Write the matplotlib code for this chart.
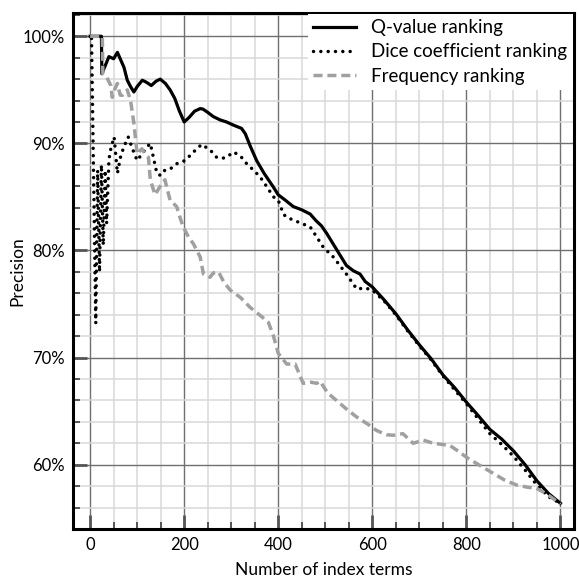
import matplotlib.pyplot as plt
from matplotlib.ticker import MultipleLocator, FuncFormatter

plt.rcParams['font.family'] = ['Lato', 'DejaVu Sans']

# Q-value ranking
q_x = [0, 24, 25, 40, 50, 58, 65, 72, 79, 86, 93, 100, 111, 120, 130, 140, 149, 160,
       170, 180, 190, 200, 210, 222, 234, 240, 250, 262, 276, 290, 305, 322, 330, 340,
       354, 370, 390, 400, 415, 432, 450, 468, 480, 492, 503, 517, 531, 545, 560, 574,
       585, 600, 625, 650, 675, 700, 725, 750, 775, 800, 825, 850, 875, 900, 925, 950,
       975, 1000]
q_y = [100, 100, 96.5, 98.1, 97.9, 98.5, 97.8, 97.1, 95.9, 95.3, 94.8, 95.3, 95.9, 95.7,
       95.4, 95.8, 96.0, 95.6, 95.0, 94.2, 93.0, 92.0, 92.4, 93.0, 93.25, 93.2, 92.9,
       92.5, 92.2, 92.0, 91.7, 91.4, 90.9, 89.8, 88.4, 87.2, 85.9, 85.2, 84.7, 84.1,
       83.8, 83.4, 82.8, 82.3, 81.6, 80.6, 79.6, 78.6, 78.1, 77.8, 77.1, 76.6, 75.4,
       74.1, 72.6, 71.2, 69.9, 68.4, 67.2, 65.85, 64.6, 63.3, 62.4, 61.3, 60.0, 58.5,
       57.3, 56.4]

# Dice coefficient ranking
d_x = [3, 12, 16, 20, 24, 28, 32, 35, 40, 44, 51, 58, 65, 72, 81,
       90, 100, 110, 120, 128, 135, 142, 150, 159, 170, 184, 202, 220, 237, 255, 269,
       280, 290, 305, 320, 333, 345, 361, 375, 390, 400, 411, 418, 440, 468, 496, 517,
       545, 567, 585, 600, 625, 650, 675, 700, 725, 750, 775, 800, 825, 850, 875, 900,
       925, 950, 975, 1000]
d_y = [99.8, 73.2, 87.5, 78.0, 88.0, 80.5, 87.5, 82.5, 88.5, 89.5, 90.6, 87.2, 88.8,
       89.7, 90.6, 89.5, 88.4, 89.0, 89.6, 90.0, 88.6,
       87.2, 87.0, 87.5, 87.6, 88.1, 88.4, 89.2, 89.9, 89.4, 88.7, 88.6, 88.7, 89.2,
       88.8, 88.1, 87.6, 86.9, 86.0, 85.0, 84.7, 83.4, 83.1, 82.7, 82.2, 80.3, 79.4,
       77.8, 76.4, 76.5, 76.3, 75.3, 74.0, 72.5, 71.1, 69.8, 68.3, 67.0, 65.7, 64.3,
       62.9, 61.9, 60.8, 59.5, 58.1, 57.0, 56.4]

# Frequency ranking
f_x = [0, 26, 27, 35, 44, 47, 52, 58, 64, 69, 75, 79, 86, 93, 100, 110, 117, 124, 128,
       138, 149, 159, 170, 184, 191, 198, 210, 220, 234, 241, 255, 262, 273, 285, 298,
       320, 340, 360, 379, 390, 400, 418, 436, 453, 470, 482, 489, 505, 524, 545, 567,
       590, 609, 630, 645, 665, 687, 708, 730, 765, 785, 800, 830, 857, 880, 907, 930,
       949, 970, 992, 1000]
f_y = [100, 100, 96.5, 96.2, 95.4, 94.3, 95.0, 95.6, 94.5, 94.5, 94.8, 95.0, 94.0, 91.9,
       89.0, 89.5, 89.0, 88.7, 86.6, 85.2, 86.0, 86.6, 84.7, 84.1, 83.1, 82.2, 81.2,
       80.6, 79.4, 77.8, 77.5, 77.9, 78.0, 77.0, 76.3, 75.6, 74.7, 74.0, 73.3, 72.0,
       70.4, 69.4, 69.4, 67.6, 67.7, 67.6, 67.8, 66.7, 66.0, 65.2, 64.45, 63.8, 63.2,
       62.8, 62.75, 62.9, 62.0, 62.3, 62.0, 61.8, 61.2, 60.7, 59.9, 59.2, 58.6, 58.1,
       57.9, 57.8, 57.3, 56.6, 56.3]

fig = plt.figure(figsize=(5.79, 5.78), dpi=100)
ax = fig.add_axes([0.1256, 0.0848, 0.8658, 0.8932])

ax.plot(q_x, q_y, color='black', lw=2.3, label='Q-value ranking', zorder=3)
ax.plot(d_x, d_y, color='black', lw=2.5, linestyle=(0, (0.01, 2.1)),
        dash_capstyle='round', label='Dice coefficient ranking', zorder=3)
ax.plot(f_x, f_y, color='#a0a0a0', lw=2.5, linestyle=(0, (2.6, 1.4)),
        label='Frequency ranking', zorder=3)

ax.set_xlim(-37, 1029)
ax.set_ylim(54, 102.2)

ax.xaxis.set_major_locator(MultipleLocator(200))
ax.xaxis.set_minor_locator(MultipleLocator(50))
ax.yaxis.set_major_locator(MultipleLocator(10))
ax.yaxis.set_minor_locator(MultipleLocator(2))
ax.yaxis.set_major_formatter(FuncFormatter(lambda v, p: f'{v:.0f}%'))

ax.grid(which='major', color='#707070', lw=1.0, zorder=1)
ax.grid(which='minor', color='#d8d8d8', lw=1.1, zorder=0)
ax.set_axisbelow(True)

ax.tick_params(which='major', direction='in', length=10, width=2.0, color='#555555',
               labelsize=12, pad=6, top=False, right=False)
ax.tick_params(which='minor', direction='in', length=5, width=1.4, color='#555555',
               top=False, right=False)

for s in ax.spines.values():
    s.set_linewidth(2.2)
    s.set_color('black')

ax.set_xlabel('Number of index terms', fontsize=12.5, labelpad=6)
ax.set_ylabel('Precision', fontsize=12.5)
ax.yaxis.set_label_coords(-0.095, 0.5)

leg = ax.legend(loc='upper right', fontsize=13.5, frameon=True, fancybox=False,
                edgecolor='white', framealpha=1, handlelength=2.3,
                handletextpad=0.8, labelspacing=0.38, borderaxespad=0.05,
                borderpad=0.3)
leg.get_frame().set_linewidth(0)

fig.savefig('out.png', dpi=100)
